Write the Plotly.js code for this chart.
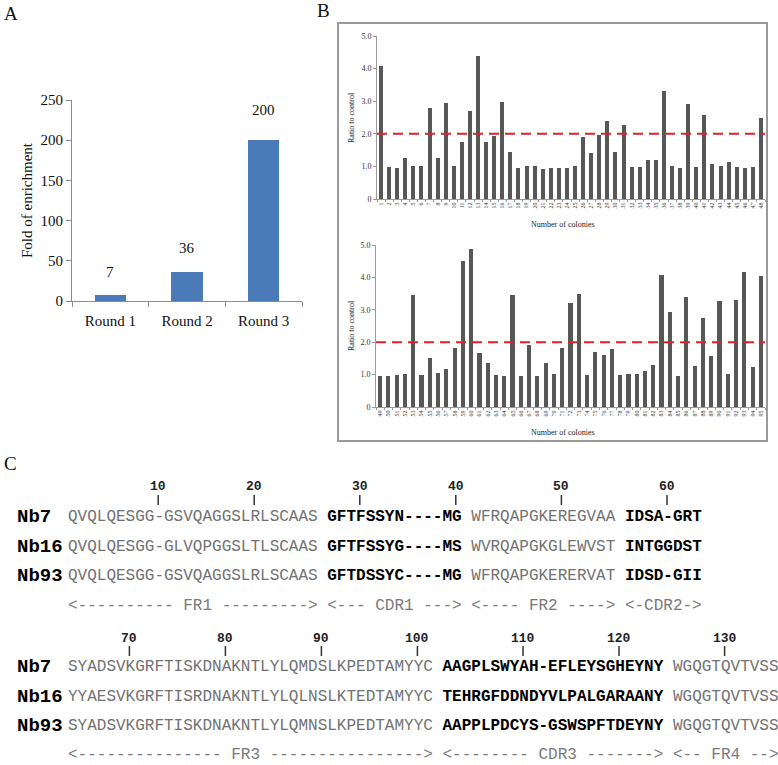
<!DOCTYPE html>
<html><head><meta charset="utf-8">
<script src="https://cdn.plot.ly/plotly-3.0.1.min.js"></script>
<style>html,body{margin:0;padding:0;background:#fff;} #chart{width:778px;height:765px;}</style>
</head><body><div id="chart"></div>
<script>
// ---------- Panel A data ----------
const rounds = ['Round 1', 'Round 2', 'Round 3'];
const enrichment = [7, 36, 200];

// ---------- Panel B data ----------
const colonies1 = ['1','2','3','4','5','6','7','8','9','10','11','12','13','14','15','16','17','18','19','20','21','22','23','24',
  '25','26','27','28','29','30','31','32','33','34','35','36','37','38','39','40','41','42','43','44','45','46','47','48'];
const ratio1 = [4.08,0.97,0.95,1.26,1.02,1.02,2.78,1.26,2.93,1.00,1.74,2.69,4.38,1.74,1.93,2.98,1.45,0.94,1.02,1.00,0.92,0.94,0.94,0.94,
  1.02,1.91,1.42,1.95,2.40,1.43,2.26,0.98,0.98,1.19,1.19,3.30,1.02,0.96,2.90,0.98,2.57,1.06,1.00,1.14,0.98,0.96,0.98,2.50];
const colonies2 = ['49','50','51','52','53','54','55','56','57','58','59','60','61','62','63','64','65','66','67','68','69','70','71','72',
  '73','74','75','76','77','78','79','80','81','82','83','84','85','86','87','88','89','90','91','92','93','94','95'];
const ratio2 = [0.96,0.96,1.00,1.02,3.45,1.00,1.51,1.04,1.18,1.81,4.52,4.87,1.66,1.37,0.98,0.96,3.45,0.97,1.91,0.97,1.35,1.02,1.81,3.20,
  3.50,0.99,1.70,1.61,1.79,0.99,1.02,1.01,1.11,1.30,4.06,2.93,0.97,3.38,1.27,2.76,1.56,3.27,1.02,3.30,4.17,1.23,4.04];
const threshold = 2.0;
const ratioTicks = [0, 1, 2, 3, 4, 5];
const ratioTickText = ['0', '1.0', '2.0', '3.0', '4.0', '5.0'];

// ---------- Panel C data ----------
const nbNames = ['Nb7', 'Nb16', 'Nb93'];
const fr1  = ['QVQLQESGG-GSVQAGGSLRLSCAAS', 'QVQLQESGG-GLVQPGGSLTLSCAAS', 'QVQLQESGG-GSVQAGGSLRLSCAAS'];
const cdr1 = ['GFTFSSYN----MG', 'GFTFSSYG----MS', 'GFTDSSYC----MG'];
const fr2  = ['WFRQAPGKEREGVAA', 'WVRQAPGKGLEWVST', 'WFRQAPGKERERVAT'];
const cdr2 = ['IDSA-GRT', 'INTGGDST', 'IDSD-GII'];
const fr3  = ['SYADSVKGRFTISKDNAKNTLYLQMDSLKPEDTAMYYC', 'YYAESVKGRFTISRDNAKNTLYLQLNSLKTEDTAMYYC', 'SYADSVKGRFTISKDNAKNTLYLQMNSLKPEDTAMYYC'];
const cdr3 = ['AAGPLSWYAH-EFLEYSGHEYNY', 'TEHRGFDDNDYVLPALGARAANY', 'AAPPLPDCYS-GSWSPFTDEYNY'];
const fr4  = ['WGQGTQVTVSS', 'WGQGTQVTVSS', 'WGQGTQVTVSS'];
const numbers1 = [10, 20, 30, 40, 50, 60];
const numbers2 = [70, 80, 90, 100, 110, 120, 130];
const regions1 = '<---------- FR1 ---------> <--- CDR1 ---> <---- FR2 ----> <-CDR2->';
const regions2 = '<--------------- FR3 ----------------> <-------- CDR3 -------> <-- FR4 -->';

// ---------- helpers ----------
const W = 778, H = 765;
const px = x => x / W, py = y => 1 - y / H;
const serif = 'Liberation Serif, Times New Roman, serif';
const mono = 'Liberation Mono, Courier New, monospace';
const GRAY = '#727272';

const traces = [
  {type:'bar', x:rounds, y:enrichment, xaxis:'x', yaxis:'y', width:0.41, marker:{color:'#4a7ab8'}, hoverinfo:'skip'},
  {type:'bar', x:colonies1, y:ratio1, xaxis:'x2', yaxis:'y2', width:0.5, marker:{color:'#575757'}, hoverinfo:'skip'},
  {type:'bar', x:colonies2, y:ratio2, xaxis:'x3', yaxis:'y3', width:0.5, marker:{color:'#575757'}, hoverinfo:'skip'}
];

const catX = {type:'category', showline:true, linewidth:1, ticks:'outside', tickson:'boundaries',
  showgrid:false, zeroline:false, fixedrange:true};
const linY = {showline:true, linewidth:1, ticks:'outside', showgrid:false, zeroline:false, fixedrange:true};

const layout = {
  width: W, height: H, margin:{l:0, r:0, t:0, b:0}, showlegend:false,
  paper_bgcolor:'#fff', plot_bgcolor:'rgba(0,0,0,0)', bargap:0,
  font:{family:serif, color:'#111'},
  xaxis: Object.assign({}, catX, {domain:[px(72), px(302)], anchor:'y', linecolor:'#8c8c8c', tickcolor:'#8c8c8c', ticklen:5,
    tickfont:{family:serif, size:15, color:'#111'}, ticklabelstandoff:6}),
  yaxis: Object.assign({}, linY, {domain:[py(301), py(100)], anchor:'x', range:[0,250], tick0:0, dtick:50,
    linecolor:'#8c8c8c', tickcolor:'#8c8c8c', ticklen:5, tickfont:{family:serif, size:15, color:'#111'}}),
  xaxis2: Object.assign({}, catX, {domain:[px(377), px(765)], anchor:'y2', linecolor:'#999', tickcolor:'#999', ticklen:2,
    tickmode:'linear', tick0:0, dtick:1, tickangle:-90, tickfont:{family:serif, size:6, color:'#333'}}),
  yaxis2: Object.assign({}, linY, {domain:[py(199), py(36)], anchor:'x2', range:[0,5], tickmode:'array',
    tickvals:ratioTicks, ticktext:ratioTickText, linecolor:'#999', tickcolor:'#999', ticklen:3,
    tickfont:{family:serif, size:8, color:'#333'}}),
  xaxis3: Object.assign({}, catX, {domain:[px(376), px(765)], anchor:'y3', linecolor:'#999', tickcolor:'#999', ticklen:2,
    tickmode:'linear', tick0:0, dtick:1, tickangle:-90, tickfont:{family:serif, size:6, color:'#333'}}),
  yaxis3: Object.assign({}, linY, {domain:[py(407), py(245)], anchor:'x3', range:[0,5], tickmode:'array',
    tickvals:ratioTicks, ticktext:ratioTickText, linecolor:'#999', tickcolor:'#999', ticklen:3,
    tickfont:{family:serif, size:8, color:'#333'}}),
  annotations: [],
  shapes: []
};

const A = layout.annotations, S = layout.shapes;
function txt(x, y, text, o) {
  A.push(Object.assign({xref:'paper', yref:'paper', x:px(x), y:py(y), text:text, showarrow:false,
    xanchor:'left', yanchor:'middle', borderpad:0}, o || {}));
}

// panel letters
txt(3, 13, 'A', {font:{family:serif, size:19, color:'#111'}});
txt(316, 11, 'B', {font:{family:serif, size:19, color:'#111'}});
txt(3, 464, 'C', {font:{family:serif, size:19, color:'#111'}});

// Panel A value labels and title
const labelShift = [23, 24, 30];
rounds.forEach((r, i) => {
  A.push({xref:'x', yref:'y', x:r, y:enrichment[i], text:String(enrichment[i]), showarrow:false,
    yanchor:'middle', yshift:labelShift[i], font:{family:serif, size:15, color:'#111'}});
});
txt(27, 200, 'Fold of enrichment', {xanchor:'center', textangle:-90, font:{family:serif, size:15, color:'#111'}});

// Panel B titles
txt(351, 118, 'Ratio to control', {xanchor:'center', textangle:-90, font:{family:serif, size:8, color:'#222'}});
txt(351, 326, 'Ratio to control', {xanchor:'center', textangle:-90, font:{family:serif, size:8, color:'#222'}});
txt(563, 224, 'Number of colonies', {xanchor:'center', font:{family:serif, size:8, color:'#222'}});
txt(563, 432, 'Number of colonies', {xanchor:'center', font:{family:serif, size:8, color:'#222'}});

// Panel B box and thresholds
S.push({type:'rect', xref:'paper', yref:'paper', x0:px(338), x1:px(767), y0:py(23), y1:py(441),
  line:{color:'#9a9a9a', width:2}, fillcolor:'rgba(0,0,0,0)', layer:'below'});
[['x2','y2'], ['x3','y3']].forEach(([xa, ya]) => {
  S.push({type:'line', xref:xa + ' domain', yref:ya, x0:0, x1:1, y0:threshold, y1:threshold,
    line:{color:'#e0232b', width:2, dash:'10px,6px'}});
});

// Panel C
const seqX0 = 67, charW = 9.6;
const segLens1 = [fr1[0].length, cdr1[0].length, fr2[0].length, cdr2[0].length];
const segLens2 = [fr3[0].length, cdr3[0].length, fr4[0].length];
const block1Residues = segLens1.reduce((a, b) => a + b, 0);
function charIndex(res, lens) {      // res: 1-based residue within block
  let idx = res - 1, cum = 0;
  for (let k = 0; k < lens.length - 1; k++) { cum += lens[k]; if (res > cum) idx += 1; }
  return idx;
}
function gray(s) { return '<span style="color:' + GRAY + '">' + s + '</span>'; }
function numberRow(nums, offset, lens, yNum, yT0, yT1) {
  nums.forEach(n => {
    const cx = seqX0 + (charIndex(n - offset, lens) + 0.5) * charW;
    txt(cx, yNum, '<b>' + n + '</b>', {xanchor:'center', font:{family:mono, size:13, color:'#222'}});
    S.push({type:'line', xref:'paper', yref:'paper', x0:px(cx), x1:px(cx), y0:py(yT0), y1:py(yT1),
      line:{color:'#333', width:1.5}});
  });
}
const block1 = {num:487, t0:495, t1:505, rows:[517, 546.5, 576], reg:605.5};
const block2 = {num:638, t0:646, t1:656, rows:[667, 696.5, 726], reg:755};
numberRow(numbers1, 0, segLens1, block1.num, block1.t0, block1.t1);
numberRow(numbers2, block1Residues, segLens2, block2.num, block2.t0, block2.t1);

nbNames.forEach((nm, i) => {
  txt(16, block1.rows[i], '<b>' + nm + '</b>', {font:{family:mono, size:19, color:'#000'}});
  txt(seqX0, block1.rows[i], gray(fr1[i]) + ' <b>' + cdr1[i] + '</b> ' + gray(fr2[i]) + ' <b>' + cdr2[i] + '</b>',
    {font:{family:mono, size:16, color:'#000'}});
  txt(16, block2.rows[i], '<b>' + nm + '</b>', {font:{family:mono, size:19, color:'#000'}});
  txt(seqX0, block2.rows[i], gray(fr3[i]) + ' <b>' + cdr3[i] + '</b> ' + gray(fr4[i]),
    {font:{family:mono, size:16, color:'#000'}});
});
txt(seqX0, block1.reg, regions1.replace(/</g, '&lt;').replace(/>/g, '&gt;'), {font:{family:mono, size:16, color:'#7a7a7a'}});
txt(seqX0, block2.reg, regions2.replace(/</g, '&lt;').replace(/>/g, '&gt;'), {font:{family:mono, size:16, color:'#7a7a7a'}});

Plotly.newPlot('chart', traces, layout, {displayModeBar:false, staticPlot:true});
</script>
</body></html>
